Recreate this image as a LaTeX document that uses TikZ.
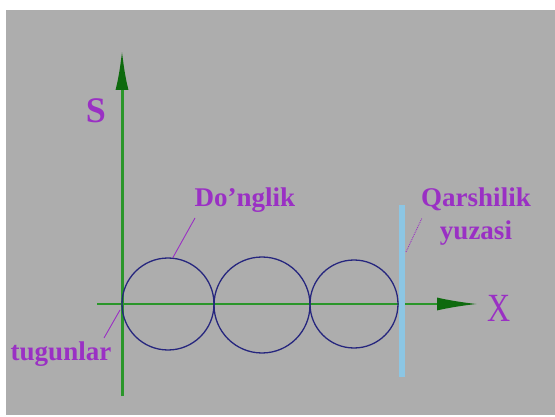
\documentclass[tikz,border=0pt]{standalone}
\usepackage{fontspec}
\setmainfont{Liberation Serif}
\usetikzlibrary{arrows.meta}
\definecolor{bg}{HTML}{ADADAD}
\definecolor{axis}{HTML}{2A962A}
\definecolor{axhead}{HTML}{0E6A0E}
\definecolor{lbl}{HTML}{9A30C4}
\definecolor{ring}{HTML}{26267E}
\definecolor{wall}{HTML}{8CC6E4}
\tikzset{
  lab/.style={text=lbl, font=\bfseries\fontsize{27}{33}\selectfont, inner sep=0pt},
  axisline/.style={draw=axis, -{Latex[length=40pt,width=13pt,color=axhead]}},
  ringc/.style={circle, draw=ring, line width=1.3pt, inner sep=0pt},
  lead/.style={draw=lbl, line width=0.9pt}
}

\begin{document}
\begin{tikzpicture}[x=1pt,y=-1pt]
\useasboundingbox (0,0) rectangle (555,417);
\fill[bg] (6,10) rectangle (555,415);
% axes
\coordinate (o) at (122,304);
\coordinate (sbot) at (122,396);
\coordinate (stop) at (122,50);
\coordinate (xleft) at (97,304);
\coordinate (xright) at (477,304);
\draw[axisline, line width=3pt] (sbot) -- (stop);
\draw[axisline, line width=1.5pt] (xleft) -- (xright);
% rings
\node[ringc, minimum size=92pt] (c1) at (168,304) {};
\node[ringc, minimum size=96pt] (c2) at (262,305) {};
\node[ringc, minimum size=88pt] (c3) at (354,304) {};
% resistance surface
\coordinate (wtop) at (402,205);
\coordinate (wbot) at (402,377);
\draw[wall, line width=6pt] (wbot) -- (wtop);
% labels
\node[lab, font=\bfseries\fontsize{36}{40}\selectfont, anchor=base] (S) at (96,123) {S};
\node[text=lbl, font=\fontsize{40}{40}\selectfont, inner sep=0pt, anchor=base, xscale=0.8] (X) at (499,322) {X};
\node[lab, anchor=base] (dong) at (245,207) {Do'nglik};
\node[lab, align=center, anchor=north] (qarsh) at (476,188) {Qarshilik\\yuzasi};
\node[lab, anchor=base] (tug) at (61,360) {tugunlar};
% leaders
\coordinate (dongend) at (195,218);
\coordinate (wpt) at (406,252);
\coordinate (qarshend) at (422,218);
\coordinate (nodept) at (120,310);
\coordinate (tugend) at (104,338);
\draw[lead] (c1.84) -- (dongend);
\draw[lead, densely dotted] (wpt) -- (qarshend);
\draw[lead] (nodept) -- (tugend);
\end{tikzpicture}
\end{document}
